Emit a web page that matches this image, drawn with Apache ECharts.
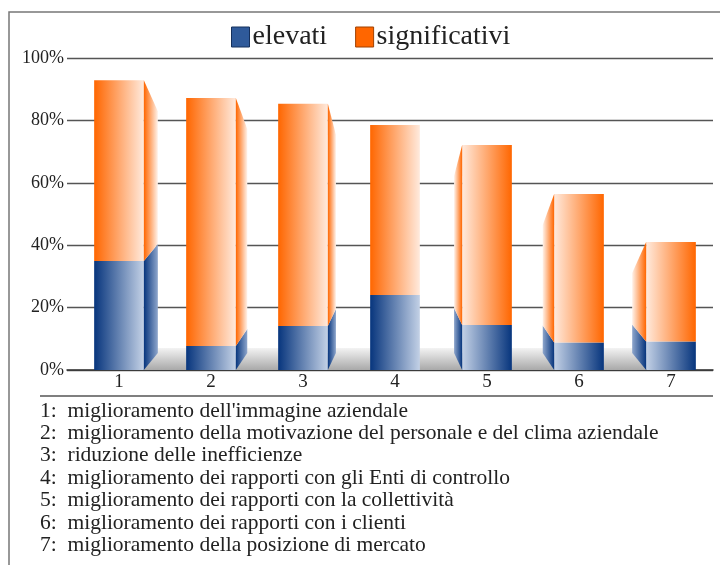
<!DOCTYPE html>
<html>
<head>
<meta charset="utf-8">
<script src="https://cdn.jsdelivr.net/npm/echarts@6/dist/echarts.min.js"></script>
<style>
  html, body { margin: 0; padding: 0; background: #fff; }
  #chart { width: 720px; height: 565px; }
</style>
</head>
<body>
<div id="chart"></div>
<script>
const categories = ['1', '2', '3', '4', '5', '6', '7'];
const elevati = [34.9, 7.7, 14.1, 24.0, 14.4, 8.8, 9.1];
const significativi = [58.0, 79.5, 71.2, 54.5, 57.7, 47.6, 31.9];
const descriptions = [
  "miglioramento dell'immagine aziendale",
  'miglioramento della motivazione del personale e del clima aziendale',
  'riduzione delle inefficienze',
  'miglioramento dei rapporti con gli Enti di controllo',
  'miglioramento dei rapporti con la collettività',
  'miglioramento dei rapporti con i clienti',
  'miglioramento della posizione di mercato'
];

const FONT = 'Liberation Serif';
const BLUE = ['#07357d', '#c3d1e6'];
const ORANGE = ['#ff6600', '#ffeadd'];
const mid = (categories.length - 1) / 2;

const grad = (a, b) => new echarts.graphic.LinearGradient(0, 0, 1, 0, [
  { offset: 0, color: a },
  { offset: 1, color: b }
]);

// draws one stacked segment (front face + perspective side)
const segment = (kind) => (params, api) => {
  const i = api.value(0);
  const e = api.value(1);
  const lo = kind === 'blue' ? 0 : e;
  const hi = kind === 'blue' ? e : e + api.value(2);
  const base = api.coord([i, lo]);
  const yHi = api.coord([i, hi])[1];
  const yLo = base[1];
  const bw = api.size([1, 0])[0] * 0.54;
  const x0 = base[0] - bw / 2;
  const x1 = base[0] + bw / 2;
  const d = i - mid;
  const dw = 14 * Math.sqrt(Math.abs(d) / mid);
  const cols = kind === 'blue' ? BLUE : ORANGE;
  const children = [{
    type: 'rect',
    shape: { x: x0, y: yHi, width: bw, height: yLo - yHi },
    style: { fill: d <= 0 ? grad(cols[0], cols[1]) : grad(cols[1], cols[0]) }
  }];
  if (d !== 0) {
    const rise = 17, drop = 31;
    const near = d < 0 ? x1 : x0;
    const far = d < 0 ? x1 + dw : x0 - dw;
    const farTop = kind === 'blue' ? yHi - rise : yHi + drop;
    const sideEnd = kind === 'blue' ? '#8ea6cc' : '#fff2ea';
    children.push({
      type: 'polygon',
      shape: { points: [[near, yLo], [far, yLo - rise], [far, farTop], [near, yHi]] },
      style: { fill: d < 0 ? grad(cols[0], sideEnd) : grad(sideEnd, cols[0]) }
    });
  }
  return { type: 'group', children };
};

const rows = categories.map((c, i) => [i, elevati[i], significativi[i]]);

const floor = (params, api) => {
  const bw = api.size([1, 0])[0] * 0.54;
  const a = api.coord([0, 0]);
  const b = api.coord([categories.length - 1, 0]);
  return {
    type: 'rect',
    shape: { x: a[0] + bw / 2, y: a[1] - 22, width: b[0] - a[0] - bw, height: 22 },
    style: {
      fill: new echarts.graphic.LinearGradient(0, 0, 0, 1, [
        { offset: 0, color: '#f3f3f3' },
        { offset: 1, color: '#a9a9a9' }
      ])
    }
  };
};

const listText = descriptions.map((t, i) => ({
  type: 'text',
  x: 40,
  y: 411 + i * 22.4,
  style: {
    text: (i + 1) + ':  ' + t, font: '21.5px "' + FONT + '"', fill: '#222',
    verticalAlign: 'middle'
  }
}));

const chart = echarts.init(document.getElementById('chart'));
chart.setOption({
  animation: false,
  legend: {
    top: 18,
    left: 226,
    icon: 'rect',
    itemWidth: 18,
    itemHeight: 20,
    itemGap: 28,
    textStyle: { fontFamily: FONT, fontSize: 28, color: '#222', padding: [0, 0, 0, -2] },
    data: [
      { name: 'elevati', itemStyle: { color: '#2f5a9a', borderColor: '#15305c', borderWidth: 1 } },
      { name: 'significativi', itemStyle: { color: '#ff6600', borderColor: '#a04000', borderWidth: 1 } }
    ]
  },
  grid: [
    { left: 67, right: 7, top: 58, bottom: 195 },
    { left: 73, right: 3, top: 58, bottom: 195 }
  ],
  xAxis: [
    {
      gridIndex: 0, type: 'category', data: categories,
      axisLine: { lineStyle: { color: '#333', width: 1.5 } },
      axisTick: { show: false }, axisLabel: { show: false }
    },
    {
      gridIndex: 1, type: 'category', data: categories,
      axisLine: { show: false }, axisTick: { show: false },
      axisLabel: { fontFamily: FONT, fontSize: 19, color: '#222', margin: 3 }
    }
  ],
  yAxis: [
    {
      gridIndex: 0, type: 'value', min: 0, max: 100, interval: 20,
      axisLine: { show: false }, axisTick: { show: false },
      axisLabel: { formatter: '{value}%', fontFamily: FONT, fontSize: 18, color: '#222', margin: 3 },
      splitLine: { lineStyle: { color: '#555', width: 1.3 } }
    },
    {
      gridIndex: 1, type: 'value', min: 0, max: 100, show: false
    }
  ],
  series: [
    { name: 'floor', type: 'custom', xAxisIndex: 1, yAxisIndex: 1, z: 1, renderItem: floor, data: [[0]] },
    {
      name: 'elevati', type: 'custom', xAxisIndex: 1, yAxisIndex: 1, z: 3,
      itemStyle: { color: '#2f5a9a' }, renderItem: segment('blue'),
      encode: { x: 0, y: 1 }, data: rows
    },
    {
      name: 'significativi', type: 'custom', xAxisIndex: 1, yAxisIndex: 1, z: 3,
      itemStyle: { color: '#ff6600' }, renderItem: segment('orange'),
      encode: { x: 0, y: 1 }, data: rows
    }
  ],
  graphic: [
    { type: 'rect', shape: { x: 9, y: 12, width: 760, height: 600 }, style: { fill: 'none', stroke: '#777', lineWidth: 1.5 } },
    { type: 'line', shape: { x1: 40, y1: 396, x2: 713, y2: 396 }, style: { stroke: '#555', lineWidth: 1.5 } },
    ...listText
  ]
});
</script>
</body>
</html>
